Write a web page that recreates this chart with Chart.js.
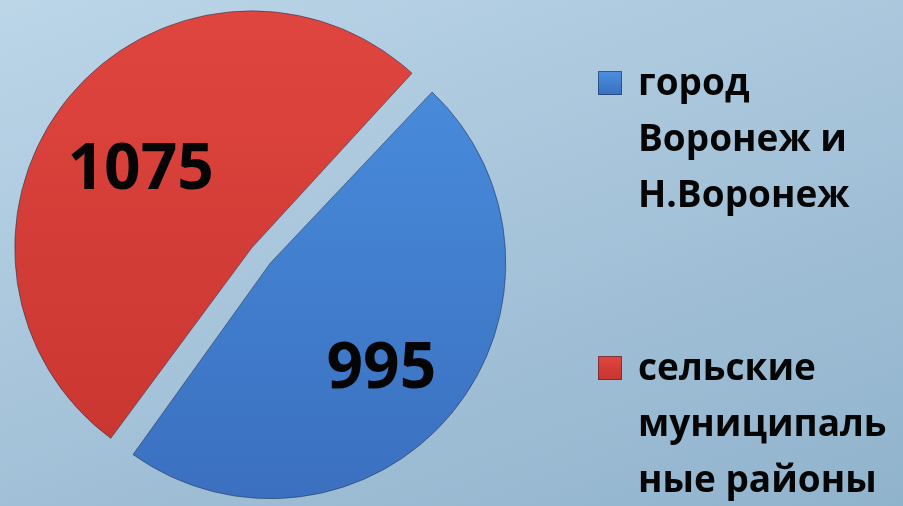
<!DOCTYPE html>
<html>
<head>
<meta charset="utf-8">
<script src="https://cdn.jsdelivr.net/npm/chart.js@4/dist/chart.umd.min.js"></script>
<style>
  html, body { margin: 0; padding: 0; }
  body {
    width: 903px; height: 506px; overflow: hidden;
    background: linear-gradient(160deg, #bcd6e8 0%, #a8c5db 45%, #90b3cc 100%);
  }
  #wrap { width: 903px; height: 506px; position: relative; }
</style>
</head>
<body>
<div id="wrap"><canvas id="chart1"></canvas></div>
<script>
const categories = [
    ['город', 'Воронеж и', 'Н.Воронеж'],
    ['сельские', 'муниципаль', 'ные районы']
];
const values = [995, 1075];
const colorsTop = ['#4b8fe0', '#e0463f'];
const colorsBottom = ['#3a6fbe', '#c7342f'];
const sliceOffset = 48;

function sliceGradient(ctx, i) {
    const area = ctx.chart.chartArea;
    if (!area) return colorsTop[i];
    const g = ctx.chart.ctx.createLinearGradient(0, area.top, 0, area.bottom);
    g.addColorStop(0, colorsTop[i]);
    g.addColorStop(1, colorsBottom[i]);
    return g;
}

// value labels inside the slices
const valueLabels = {
    id: 'valueLabels',
    afterDatasetsDraw(chart) {
        const c = chart.ctx;
        const meta = chart.getDatasetMeta(0);
        c.save();
        c.font = 'bold 64px "Open Sans"';
        c.fillStyle = '#050505';
        c.textAlign = 'center';
        c.textBaseline = 'middle';
        meta.data.forEach((arc, i) => {
            const p = arc.getProps(['x', 'y', 'startAngle', 'endAngle', 'outerRadius']);
            const mid = (p.startAngle + p.endAngle) / 2;
            // arc is shifted by offset/4 when drawn
            const r = sliceOffset / 4 + p.outerRadius * 0.64;
            c.fillText(String(values[i]), p.x + Math.cos(mid) * r, p.y + Math.sin(mid) * r + 15);
        });
        c.restore();
    }
};

// legend on the right with wrapped lines
const sideLegend = {
    id: 'sideLegend',
    afterDraw(chart) {
        const c = chart.ctx;
        const tops = [95, 380];
        c.save();
        c.font = 'bold 37px "Open Sans"';
        c.textBaseline = 'alphabetic';
        categories.forEach((lines, i) => {
            const y0 = tops[i];
            const g = c.createLinearGradient(0, y0 - 24, 0, y0);
            g.addColorStop(0, colorsTop[i]);
            g.addColorStop(1, colorsBottom[i]);
            c.fillStyle = g;
            c.fillRect(598, y0 - 24, 24, 24);
            c.strokeStyle = 'rgba(30,40,60,0.5)';
            c.lineWidth = 1;
            c.strokeRect(598.5, y0 - 23.5, 23, 23);
            c.fillStyle = '#050505';
            lines.forEach((t, k) => c.fillText(t, 638, y0 + k * 56));
        });
        c.restore();
    }
};

const data = {
    labels: categories.map(l => l.join(' ')),
    datasets: [{
        data: values,
        backgroundColor: ctx => sliceGradient(ctx, ctx.dataIndex),
        borderColor: 'rgba(35,50,80,0.55)',
        borderWidth: 1,
        offset: sliceOffset
    }]
};

const config = {
    type: 'pie',
    data: data,
    options: {
        responsive: true,
        maintainAspectRatio: false,
        animation: false,
        rotation: 43,
        layout: { padding: { left: 0, right: 381, top: 6, bottom: 1 } },
        plugins: {
            legend: { display: false },
            tooltip: { enabled: false }
        }
    },
    plugins: [valueLabels, sideLegend]
};

new Chart(document.getElementById('chart1').getContext('2d'), config);
</script>
</body>
</html>
